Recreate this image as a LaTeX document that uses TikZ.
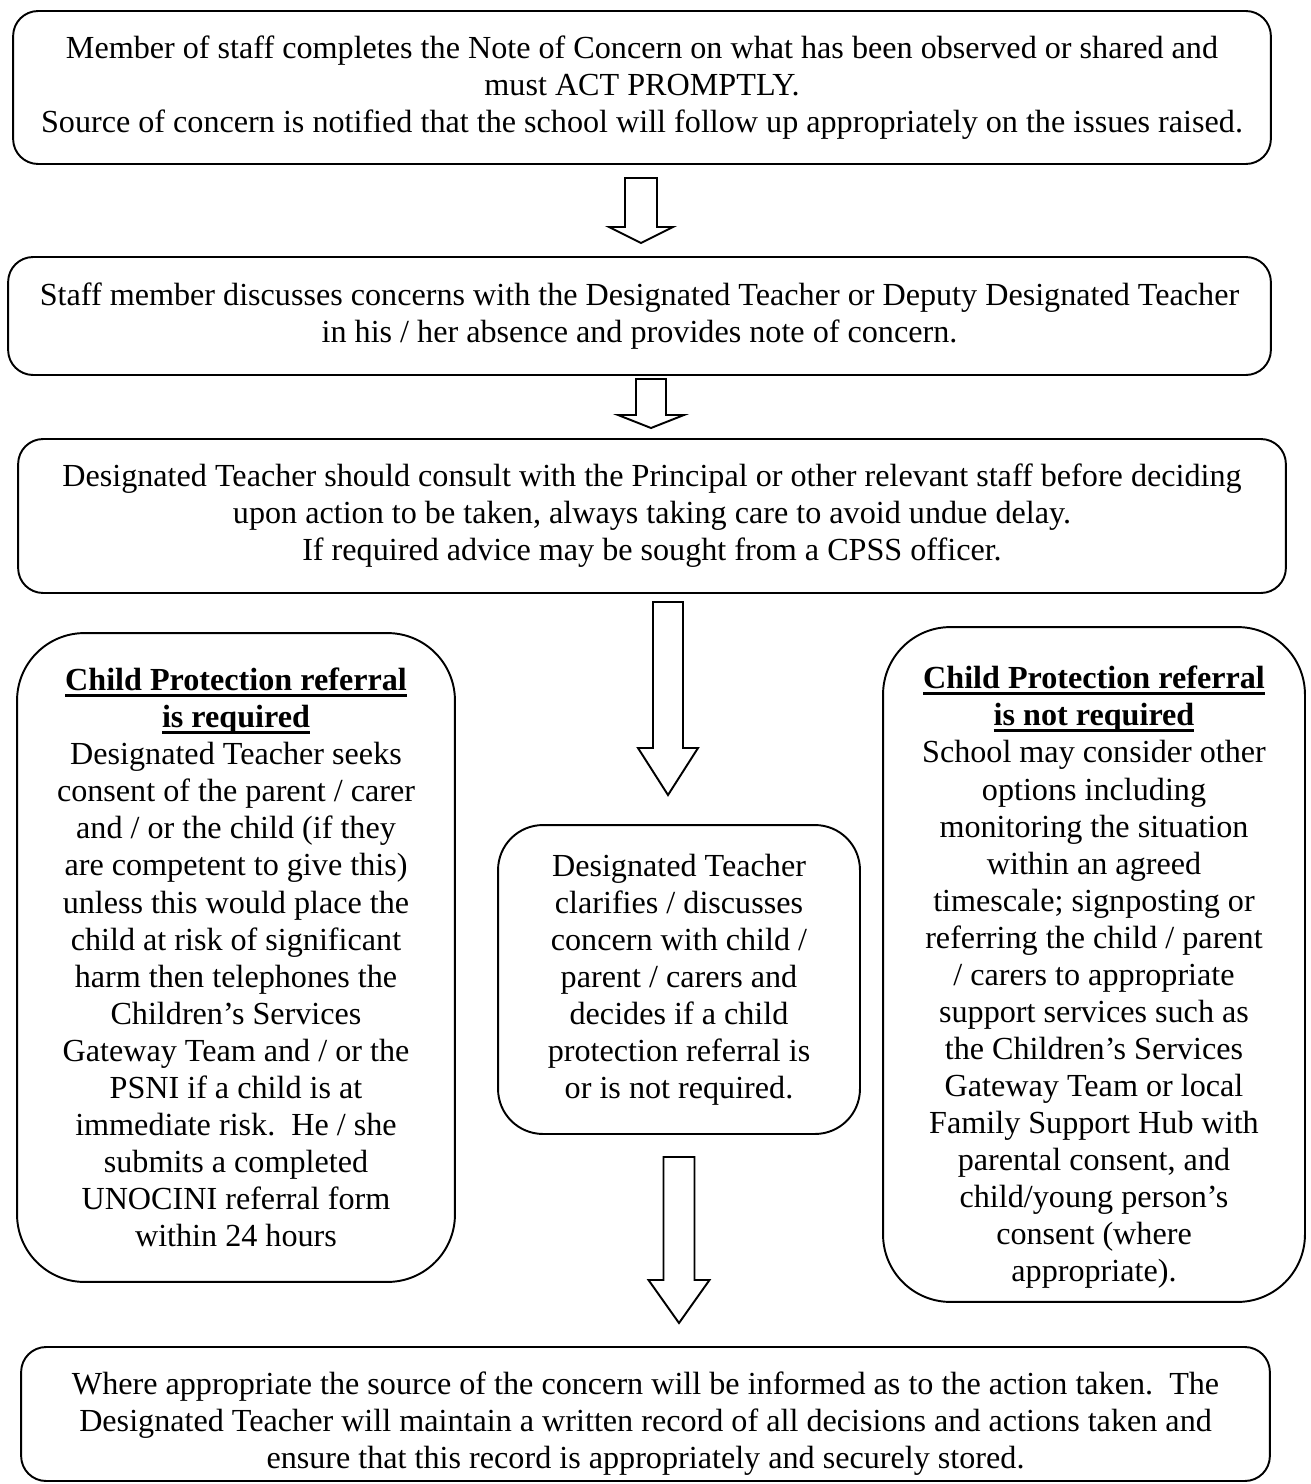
\documentclass[tikz,border=0pt]{standalone}
\usepackage{fontspec}
\setmainfont{Liberation Serif}
\usepackage{tikz}
\usetikzlibrary{positioning}

% outline block arrow pointing down: centre x, top, head base, tip, shaft half, head half
\newcommand{\blockdown}[6]{%
	\draw[line width=1.1pt, line join=miter, fill=white]
		(#1-#5,#2) -- (#1+#5,#2) -- (#1+#5,#3) -- (#1+#6,#3) -- (#1,#4)
		-- (#1-#6,#3) -- (#1-#5,#3) -- cycle;
}
% bold heading with a heavy underline
\newcommand{\headul}[1]{\setbox0\hbox{\textbf{#1}}\rlap{\rule[-3.4pt]{\wd0}{1.7pt}}\box0}

\begin{document}
\begin{tikzpicture}[x=0.02cm, y=-0.02cm, font=\fontsize{18.3}{21.1}\selectfont]
	\tikzstyle{flowbox} = [draw, line width=1.1pt, rounded corners=0.5cm, align=center, inner sep=0pt]
	\tikzstyle{sidebox} = [flowbox, rounded corners=1.35cm]
	\tikzstyle{plaintext} = [align=center, inner sep=0pt]

	\useasboundingbox (0,0) rectangle (1311,1484);

	% steps down the page
	\node[flowbox, minimum width=25.16cm, minimum height=3.06cm] (note) at (642,87.5)
		{Member of staff completes the Note of Concern on what has been observed or shared and\\
		 must ACT PROMPTLY.\\
		 Source of concern is notified that the school will follow up appropriately on the issues raised.};
	\node[flowbox, minimum width=25.26cm, minimum height=2.36cm] (discuss) at (639.5,316)
		{Staff member discusses concerns with the Designated Teacher or Deputy Designated Teacher\\
		 in his / her absence and provides note of concern.};
	\node[flowbox, minimum width=25.36cm, minimum height=3.08cm] (consult) at (652,516)
		{Designated Teacher should consult with the Principal or other relevant staff before deciding\\
		 upon action to be taken, always taking care to avoid undue delay.\\
		 If required advice may be sought from a CPSS officer.};

	% the two outcomes and the decision
	\node[sidebox, minimum width=8.76cm, minimum height=12.98cm] (required) at (236,957.5)
		{\headul{Child Protection referral}\\
		 \headul{is required}\\
		 Designated Teacher seeks\\
		 consent of the parent / carer\\
		 and / or the child (if they\\
		 are competent to give this)\\
		 unless this would place the\\
		 child at risk of significant\\
		 harm then telephones the\\
		 Children’s Services\\
		 Gateway Team and / or the\\
		 PSNI if a child is at\\
		 immediate risk.\ \ He / she\\
		 submits a completed\\
		 UNOCINI referral form\\
		 within 24 hours};
	\node[flowbox, rounded corners=0.9cm, minimum width=7.24cm, minimum height=6.18cm] (decide) at (679,979.5)
		{Designated Teacher\\
		 clarifies / discusses\\
		 concern with child /\\
		 parent / carers and\\
		 decides if a child\\
		 protection referral is\\
		 or is not required.};
	\node[sidebox, minimum width=8.44cm, minimum height=13.5cm] (notrequired) at (1094,964.5) {};
	\node[plaintext] (notrequiredtext) at ([yshift=-0.26cm]notrequired.center)
		{\headul{Child Protection referral}\\
		 \headul{is not required}\\
		 School may consider other\\
		 options including\\
		 monitoring the situation\\
		 within an agreed\\
		 timescale; signposting or\\
		 referring the child / parent\\
		 / carers to appropriate\\
		 support services such as\\
		 the Children’s Services\\
		 Gateway Team or local\\
		 Family Support Hub with\\
		 parental consent, and\\
		 child/young person’s\\
		 consent (where\\
		 appropriate).};

	\node[flowbox, minimum width=24.98cm, minimum height=2.68cm] (record) at (645.5,1414) {};
	\node[plaintext] (recordtext) at ([yshift=-0.2cm]record.center)
		{Where appropriate the source of the concern will be informed as to the action taken.\ \ The\\
		 Designated Teacher will maintain a written record of all decisions and actions taken and\\
		 ensure that this record is appropriately and securely stored.};

	% arrows between the steps
	\blockdown{641}{178}{227}{243}{16}{32}
	\blockdown{651}{379}{415}{428}{15}{33}
	\blockdown{668}{602}{748}{795}{15}{30}
	\blockdown{679}{1157}{1280}{1323}{15.5}{30.5}
\end{tikzpicture}
\end{document}
